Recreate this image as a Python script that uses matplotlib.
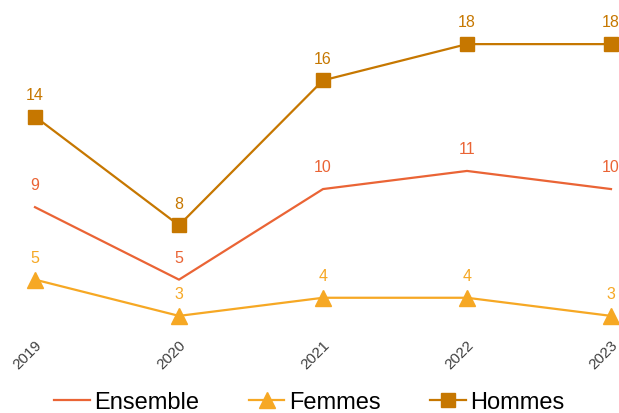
import matplotlib.pyplot as plt

plt.rcParams['font.family'] = ['Liberation Sans', 'DejaVu Sans']

years = ['2019', '2020', '2021', '2022', '2023']
ensemble = [9, 5, 10, 11, 10]
femmes = [5, 3, 4, 4, 3]
hommes = [14, 8, 16, 18, 18]

col_ens = '#EA6435'
col_fem = '#F6A824'
col_hom = '#C67700'

fig = plt.figure(figsize=(6.19, 4.14), dpi=100)
ax = fig.add_axes([35 / 619, 1 - 335 / 414, 576 / 619, 308 / 414])

x = list(range(len(years)))
ax.plot(x, ensemble, color=col_ens, lw=1.6, label='Ensemble', clip_on=False)
ax.plot(x, femmes, color=col_fem, lw=1.6, marker='^', ms=11, label='Femmes', clip_on=False)
ax.plot(x, hommes, color=col_hom, lw=1.6, marker='s', ms=9.5, label='Hommes', clip_on=False)

# value labels above each point
for vals, c in [(ensemble, col_ens), (femmes, col_fem), (hommes, col_hom)]:
    for xi, v in zip(x, vals):
        ax.annotate(str(v), (xi, v), xytext=(0, 16), textcoords='offset points',
                    ha='center', va='center', color=c, fontsize=11.5,
                    annotation_clip=False)

ax.set_xlim(0, 4)
ax.set_ylim(2, 19)
ax.set_xticks(x)
ax.set_xticklabels(years, rotation=45, ha='right', rotation_mode='anchor',
                   fontsize=11, color='#404040')
ax.tick_params(axis='x', length=0, pad=2)
ax.set_yticks([])
for s in ax.spines.values():
    s.set_visible(False)

fig.legend(loc='center', bbox_to_anchor=(0.5, 1 - 403 / 414), ncol=3, frameon=False,
           fontsize=17, handlelength=1.5, handletextpad=0.2, columnspacing=2.1)

fig.savefig('out.png', dpi=100)
